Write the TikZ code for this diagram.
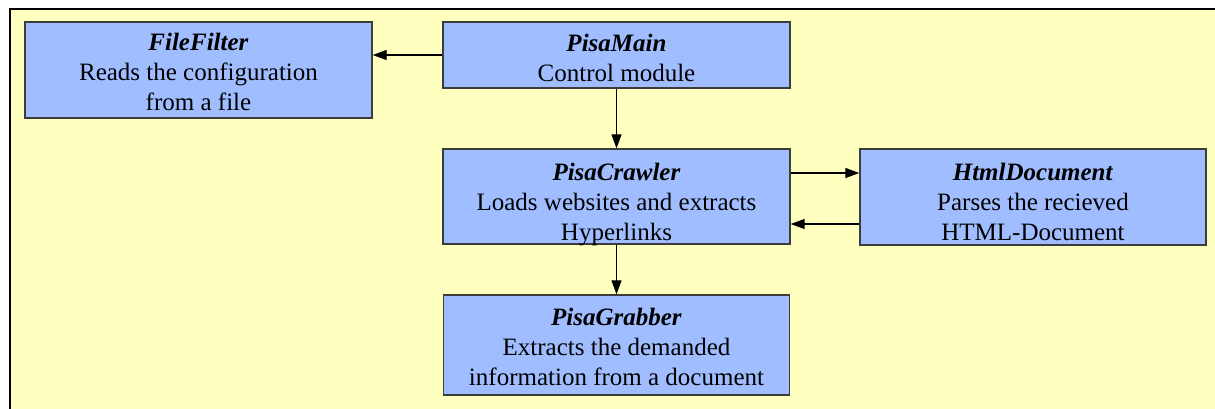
\documentclass[tikz,border=0pt]{standalone}
\usepackage{fontspec}
\setmainfont{Liberation Serif}
\usetikzlibrary{arrows.meta}
\definecolor{bgyellow}{RGB}{255,255,192}
\definecolor{boxblue}{RGB}{160,190,255}
\definecolor{boxline}{RGB}{60,60,60}
\newcommand{\modtext}[2]{\raisebox{-#1}[0pt][0pt]{\begin{tabular}{@{}c@{}}#2\end{tabular}}}
\begin{document}
\begin{tikzpicture}[x=1pt,y=-1pt,
  module/.style={draw=boxline,line width=1.4pt,fill=boxblue,align=center,
    inner sep=0pt,font=\fontsize{25}{30}\selectfont},
  conn/.style={line width=1.2pt,-{Triangle[length=14pt,width=10pt]}}]
\useasboundingbox (0,0) rectangle (1215,408);
\fill[bgyellow] (10,9) rectangle (1220,412);
\draw[line width=1.5pt] (10,412) -- (10,9) -- (1220,9);
\node[module,minimum width=347pt,minimum height=96pt] (ff) at (198.5,70)
  {\modtext{11pt}{\textbf{\textit{FileFilter}}\\Reads the configuration\\from a file}};
\node[module,minimum width=347pt,minimum height=66pt] (pm) at (616.5,55)
  {\modtext{12pt}{\textbf{\textit{PisaMain}}\\Control module}};
\node[module,minimum width=347pt,minimum height=95pt] (pc) at (616.5,196.5)
  {\modtext{14pt}{\textbf{\textit{PisaCrawler}}\\Loads websites and extracts\\Hyperlinks}};
\node[module,minimum width=346pt,minimum height=96pt] (hd) at (1033,197)
  {\modtext{14pt}{\textbf{\textit{HtmlDocument}}\\Parses the recieved\\HTML-Document}};
\node[module,minimum width=346pt,minimum height=100pt] (pg) at (616.5,345)
  {\modtext{11pt}{\textbf{\textit{PisaGrabber}}\\Extracts the demanded\\information from a document}};
\draw[conn] (pm.west) -- (pm.west -| ff.east);
\draw[conn] (pm.south) -- (pc.north);
\draw[conn] ([yshift=23.5pt]pc.east) -- ([yshift=23.5pt]pc.east -| hd.west);
\draw[conn] ([yshift=-27.5pt]pc.east -| hd.west) -- ([yshift=-27.5pt]pc.east);
\draw[conn] (pc.south) -- (pg.north);
\end{tikzpicture}
\end{document}
